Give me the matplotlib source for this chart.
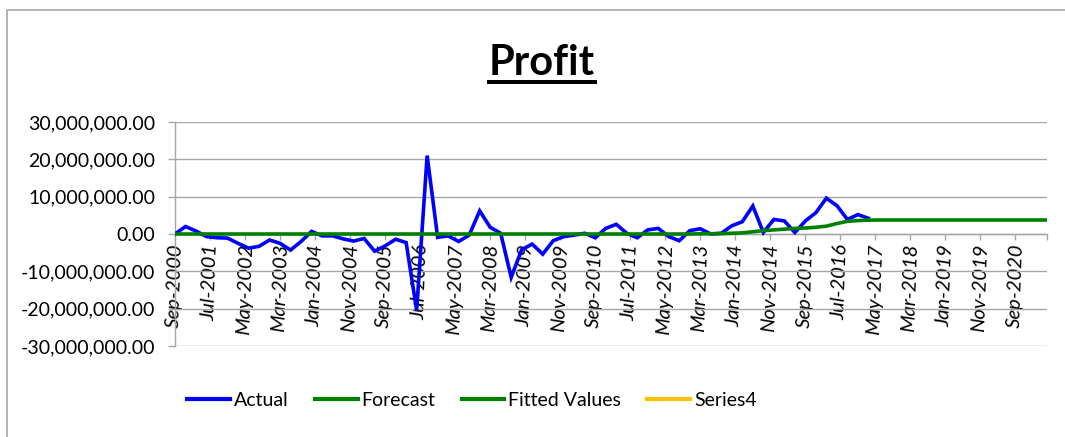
import matplotlib
matplotlib.use("Agg")
import matplotlib.pyplot as plt
from matplotlib.lines import Line2D
from matplotlib.ticker import FuncFormatter, FixedLocator
import numpy as np

# ---- data (values in millions, quarterly from Sep-2000) ----
actual_m = [0.0, 2.0, 0.8, -0.7, -1.0, -1.1, -2.5, -3.8, -3.3, -1.6,
            -2.5, -4.3, -2.0, 0.7, -0.5, -0.5, -1.3, -1.9, -1.2, -4.6,
            -3.2, -1.4, -2.3, -20.4, 21.0, -0.9, -0.5, -2.0, -0.3, 6.2,
            1.8, 0.2, -11.6, -4.2, -2.7, -5.4, -1.8, -0.7, -0.3, 0.2,
            -1.0, 1.5, 2.6, 0.2, -1.0, 1.1, 1.5, -0.7, -1.8, 0.9,
            1.4, 0.0, 0.2, 2.2, 3.3, 7.5, 0.4, 3.9, 3.5, 0.4,
            3.5, 5.7, 9.6, 7.6, 3.9, 5.2, 4.2]
fitted_m = [0.0] * 50 + [0.05, 0.07, 0.1, 0.2, 0.3, 0.6, 0.9, 1.1, 1.3, 1.5,
                         1.6, 1.8, 2.1, 2.8, 3.4, 3.6, 3.7]
forecast_m = [3.7] + [3.75] * 17
series4_m = []
fitted_start_q = 0
forecast_start_q = 66

tick_labels = ["Sep-2000", "Jul-2001", "May-2002", "Mar-2003", "Jan-2004",
               "Nov-2004", "Sep-2005", "Jul-2006", "May-2007", "Mar-2008",
               "Jan-2009", "Nov-2009", "Sep-2010", "Jul-2011", "May-2012",
               "Mar-2013", "Jan-2014", "Nov-2014", "Sep-2015", "Jul-2016",
               "May-2017", "Mar-2018", "Jan-2019", "Nov-2019", "Sep-2020"]
tick_step_months = 10
axis_end_months = 249
y_ticks = [-30e6, -20e6, -10e6, 0, 10e6, 20e6, 30e6]

# ---- styling ----
W, H = 1065, 437
FONT = "Lato"
BLUE = "#0000FF"
GREEN = "#008000"
YELLOW = "#FFC000"
GRID = "#A6A6A6"

fig = plt.figure(figsize=(W / 100, H / 100), dpi=100)
ax = fig.add_axes([175 / W, 1 - 346 / H, (1047 - 175) / W, (346 - 122) / H])

def q_to_x(start, n):
    return [3 * (start + k) for k in range(n)]

lw = 2.6
ax.plot(q_to_x(0, len(actual_m)), np.array(actual_m) * 1e6, color=BLUE,
        lw=lw, label="Actual", zorder=3, solid_joinstyle="miter")
ax.plot(q_to_x(forecast_start_q, len(forecast_m)), np.array(forecast_m) * 1e6,
        color=GREEN, lw=lw, label="Forecast", zorder=4)
ax.plot(q_to_x(fitted_start_q, len(fitted_m)), np.array(fitted_m) * 1e6,
        color=GREEN, lw=lw, label="Fitted Values", zorder=5)
ax.plot(q_to_x(0, len(series4_m)), np.array(series4_m) * 1e6,
        color=YELLOW, lw=lw, label="Series4", zorder=6)

# spines first (set_position resets tick objects)
for s in ["top", "right"]:
    ax.spines[s].set_visible(False)
ax.spines["bottom"].set_position(("data", 0))
ax.spines["bottom"].set_color(GRID)
ax.spines["left"].set_color(GRID)
ax.spines["bottom"].set_linewidth(1.0)
ax.spines["left"].set_linewidth(1.0)

ax.set_xlim(0, axis_end_months)
ax.set_ylim(-30e6, 30e6)

ax.set_yticks(y_ticks)
ax.yaxis.set_major_formatter(FuncFormatter(lambda v, p: f"{v:,.2f}"))
ax.grid(axis="y", color=GRID, lw=1.0)
ax.set_axisbelow(True)

ax.tick_params(axis="x", which="both", direction="out", length=4, color=GRID,
               width=1.0, pad=3)
ax.tick_params(axis="y", direction="out", length=5, color=GRID, width=1.0,
               pad=9, labelsize=14)

xt = [tick_step_months * k for k in range(len(tick_labels))]
ax.set_xticks(xt)
ax.set_xticklabels(tick_labels, rotation=88, ha="center", va="top",
                   fontstyle="italic", fontsize=14.5, family=FONT)
ax.xaxis.set_minor_locator(FixedLocator([axis_end_months]))
for lab in ax.get_yticklabels():
    lab.set_family(FONT)

# title with underline
title = fig.text(542 / W, 1 - 75 / H, "Profit", ha="center", va="baseline",
                 fontsize=30, fontweight="bold", family=FONT)
fig.canvas.draw()
bb = title.get_window_extent(fig.canvas.get_renderer())
fig.add_artist(Line2D([bb.x0 / W, bb.x1 / W], [1 - 82 / H, 1 - 82 / H],
                      transform=fig.transFigure, color="black", lw=2.9))

# chart-area border (left and top visible)
fig.add_artist(Line2D([7 / W, 7 / W, 1.0], [0.0, 1 - 10 / H, 1 - 10 / H],
                      transform=fig.transFigure, color=GRID, lw=1.2))

leg = fig.legend(loc="center", bbox_to_anchor=(472 / W, 1 - 400 / H), ncol=4,
                 frameon=False, handlelength=2.2, handletextpad=0.2,
                 columnspacing=1.35, prop={"family": FONT, "size": 14})
for h in leg.get_lines():
    h.set_linewidth(3.0)

fig.savefig("out.png", dpi=100)
